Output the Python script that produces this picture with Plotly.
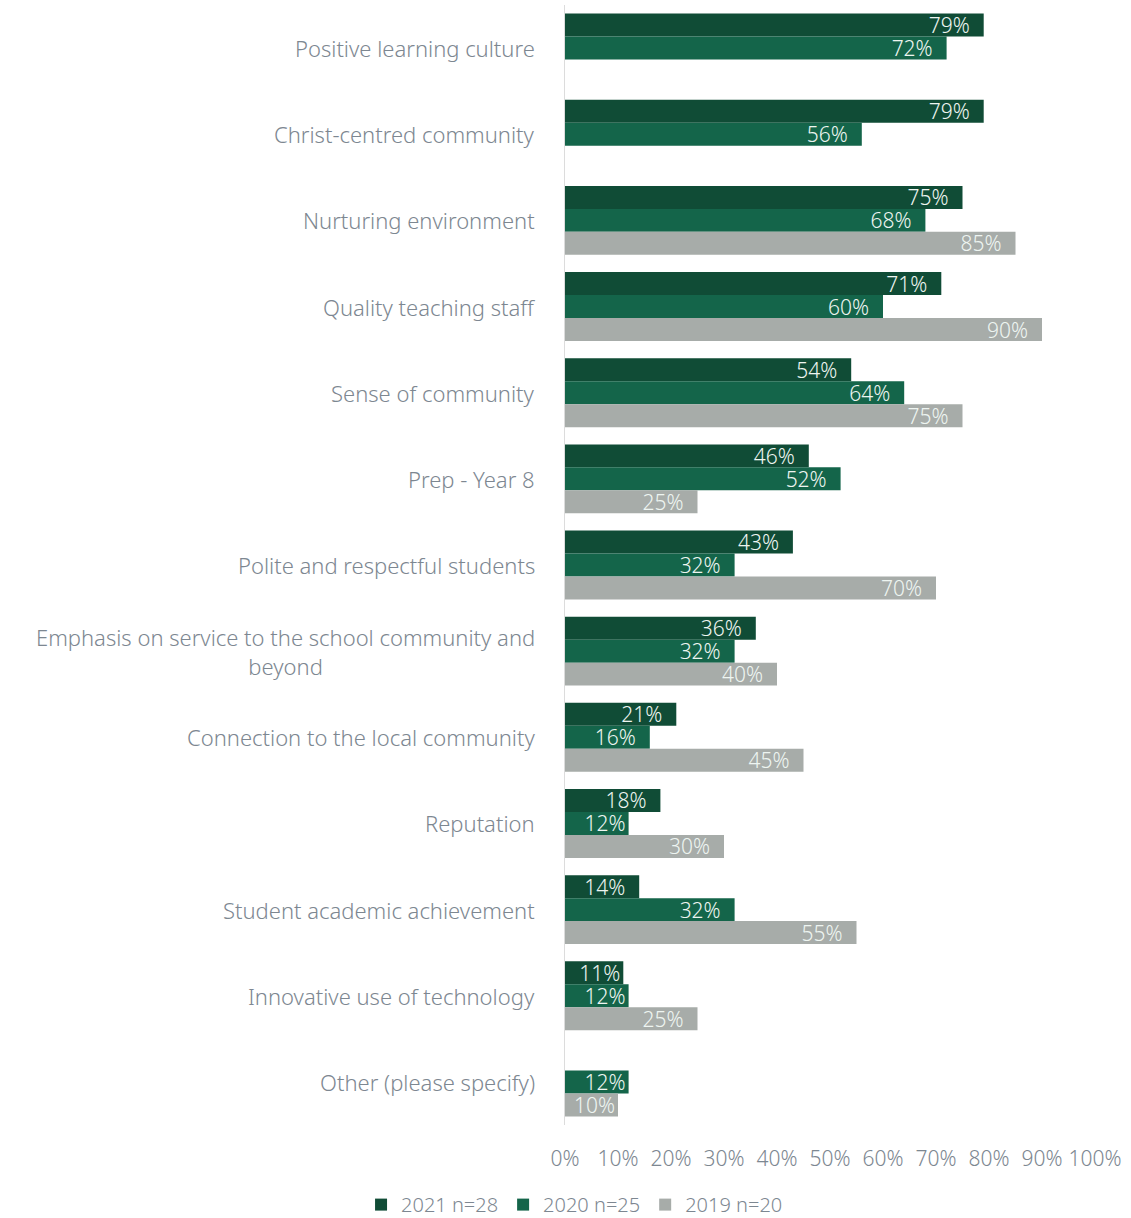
import plotly.graph_objects as go

categories = [
    "Positive learning culture",
    "Christ-centred community",
    "Nurturing environment",
    "Quality teaching staff",
    "Sense of community",
    "Prep - Year 8",
    "Polite and respectful students",
    "Emphasis on service to the school community and<br>beyond",
    "Connection to the local community",
    "Reputation",
    "Student academic achievement",
    "Innovative use of technology",
    "Other (please specify)",
]
v2021 = [79, 79, 75, 71, 54, 46, 43, 36, 21, 18, 14, 11, None]
v2020 = [72, 56, 68, 60, 64, 52, 32, 32, 16, 12, 32, 12, 12]
v2019 = [None, None, 85, 90, 75, 25, 70, 40, 45, 30, 55, 25, 10]
series_names = ["2021 n=28", "2020 n=25", "2019 n=20"]
colors = ["#104c36", "#14654a", "#a7aca9"]
tick_vals = [0, 10, 20, 30, 40, 50, 60, 70, 80, 90, 100]
tick_text = [f"{v}%" for v in tick_vals]

FONT = "Noto Sans"
GRAY = "#7d8791"


def label(v):
    if v is None:
        return ""
    # trailing padding inside the bar end, only where the bar is long enough
    return f"{v}%\u00a0\u00a0" if v >= 14 else f"{v}%"


fig = go.Figure()
for name, vals, col in zip(series_names, [v2021, v2020, v2019], colors):
    fig.add_trace(go.Bar(
        y=categories, x=vals, name=name, orientation="h",
        marker=dict(color=col, line=dict(width=0)),
        text=[label(v) for v in vals],
        textposition="inside", insidetextanchor="end",
        constraintext="none", cliponaxis=False,
        textfont=dict(color="#eef5f1", size=21, family=FONT, weight=300),
    ))

annotations = []
for c in categories:
    annotations.append(dict(
        x=0, xref="paper", y=c, yref="y", xanchor="right", xshift=-28,
        text=c, showarrow=False, align="center",
        font=dict(size=22, color=GRAY, family=FONT, weight=300),
    ))

fig.update_layout(
    width=1131, height=1218,
    margin=dict(l=565, r=36, t=5, b=93, autoexpand=False),
    barmode="group", bargap=0.2, bargroupgap=0,
    plot_bgcolor="white", paper_bgcolor="white",
    font=dict(family=FONT, color=GRAY),
    xaxis=dict(range=[0, 100], tickvals=tick_vals, ticktext=tick_text,
               showgrid=False, zeroline=False, showline=False,
               tickfont=dict(size=21, color=GRAY, family=FONT, weight=300),
               ticks="", ticklabelstandoff=19),
    yaxis=dict(autorange="reversed", showticklabels=False, showgrid=False,
               showline=True, linecolor="#dcdcdc", linewidth=1, ticks=""),
    legend=dict(orientation="h", xref="container", yref="container",
                x=0.508, xanchor="center", y=0.011, yanchor="middle",
                font=dict(size=20, color=GRAY, family=FONT, weight=300),
                itemwidth=30, traceorder="normal"),
    annotations=annotations,
)

fig.write_html("out.html")
